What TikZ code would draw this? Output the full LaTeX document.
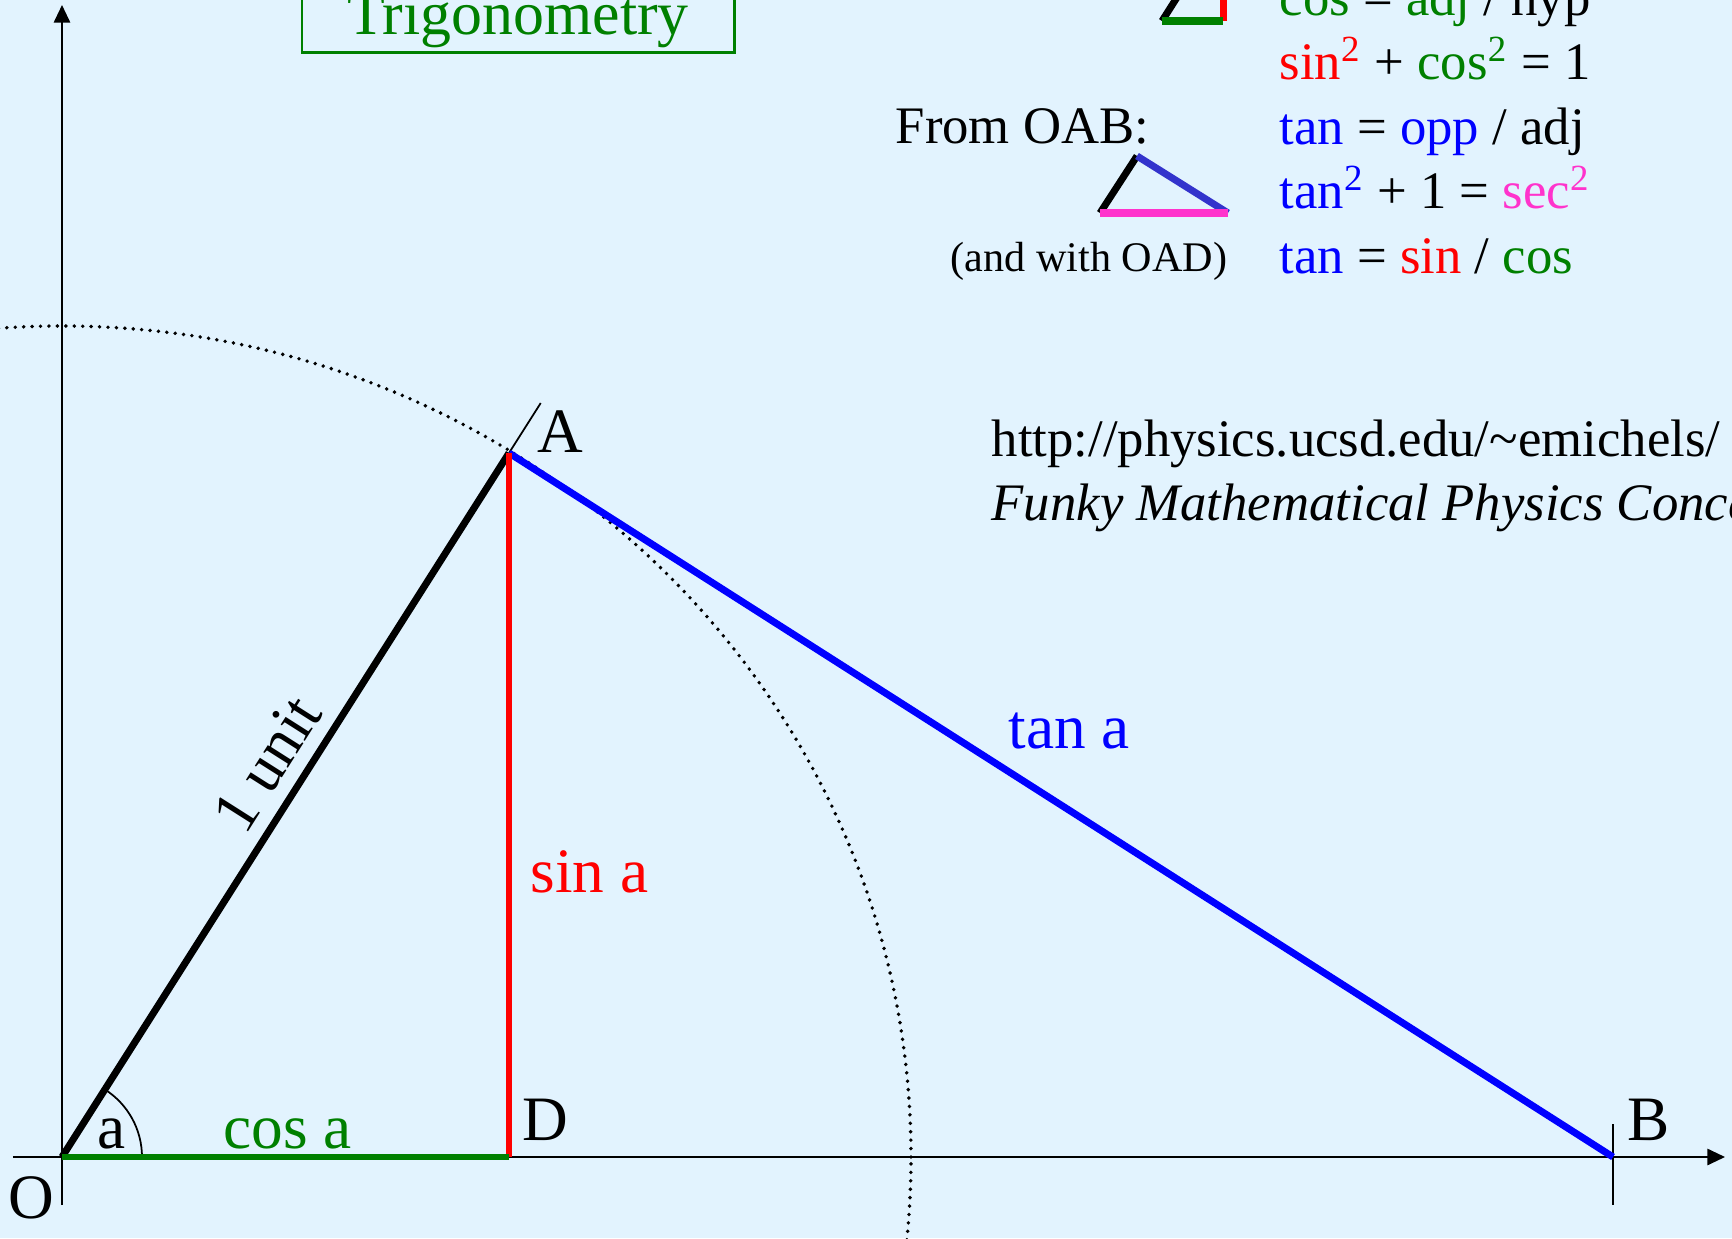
\documentclass[tikz,border=0pt]{standalone}
\usepackage{fontspec}
\setmainfont{Liberation Serif}
\usetikzlibrary{arrows.meta, positioning, calc}
\definecolor{trigSky}{RGB}{226,243,254}
\definecolor{trigGreen}{RGB}{0,128,0}
\definecolor{trigRed}{RGB}{255,0,0}
\definecolor{trigBlue}{RGB}{0,0,255}
\definecolor{trigNavy}{RGB}{51,51,204}
\definecolor{trigPink}{RGB}{255,51,204}
\newcommand{\lblfont}{\fontsize{18}{21}\selectfont}
\newcommand{\eqfont}{\fontsize{15}{18}\selectfont}
\newcommand{\notefont}{\fontsize{12}{14}\selectfont}
\tikzset{
  axisline/.style={line width=0.6pt, -{Triangle[length=5pt,width=4.6pt]}},
  tickline/.style={line width=0.5pt},
  side/.style={line width=2pt},
  thinside/.style={line width=1.6pt},
  circdots/.style={line width=1.1pt, line cap=round, dash pattern=on 0pt off 2.4pt},
  ptname/.style={font=\lblfont, anchor=base west, inner sep=0pt},
  eqline/.style={font=\eqfont, anchor=base west, inner sep=0pt},
}

\begin{document}
\begin{tikzpicture}
\path[use as bounding box, fill=trigSky] (-0.62,-0.81) rectangle (16.70,11.57);
\clip (-0.62,-0.81) rectangle (16.70,11.57);

% points of the triangle
\coordinate (O) at (0,0);
\coordinate (A) at (4.47,7.04);
\coordinate (D) at (4.47,0);
\coordinate (B) at (15.51,0);
\coordinate (Atick) at ($(O)!1.071!(A)$);
\coordinate (xstart) at (-0.49,0);
\coordinate (xend) at (16.63,0);
\coordinate (ystart) at (0,-0.48);
\coordinate (yend) at (0,11.52);
\coordinate (Btop) at (15.51,0.33);
\coordinate (Bbot) at (15.51,-0.48);

% axes and unit circle
\draw[axisline] (xstart) -- (xend);
\draw[axisline] (ystart) -- (yend);
\draw[circdots] (O) ellipse [x radius=8.49, y radius=8.31];
\draw[tickline] (A) -- (Atick);
\draw[tickline] (Btop) -- (Bbot);
\draw[tickline] ($(O)+(0.8,0)$) arc[start angle=0, end angle=57.6, radius=0.8];

% sides
\draw[side] (O) -- (A);
\draw[side, trigBlue] (A) -- (B);
\draw[thinside, trigRed] (D) -- (A);
\draw[thinside, trigGreen] (O) -- (D);

\path (O) -- (A) node[pos=0.53, sloped, above, inner sep=4.5pt, font=\lblfont] (unit) {1 unit};

% point labels
\node[font=\lblfont, anchor=base, inner sep=0pt] (Olbl) at (-0.31,-0.61) {O};
\node[ptname] (Albl) at (4.75,7.04) {A};
\node[ptname] (Dlbl) at (4.60,0.17) {D};
\node[ptname] (Blbl) at (15.65,0.17) {B};
\node[font=\lblfont, anchor=base, inner sep=0pt] (alpha) at (0.50,0.09) {a};
\node[font=\lblfont, anchor=base, inner sep=0pt, text=trigGreen] (coslbl) at (2.26,0.09) {cos a};
\node[ptname, text=trigRed] (sinlbl) at (4.68,2.65) {sin a};
\node[ptname, text=trigBlue] (tanlbl) at (9.46,4.09) {tan a};

% title
\node[draw=trigGreen, line width=0.85pt, text=trigGreen, font=\fontsize{17.6}{20}\selectfont,
      anchor=base, minimum width=4.32cm, text height=0.6cm, text depth=0.14cm,
      inner ysep=1pt] (title) at (4.56,11.22) {Trigonometry};

% source
\node[eqline] (url) at (9.29,7.00) {http://physics.ucsd.edu/\textasciitilde emichels/};
\node[eqline, font=\eqfont\itshape] (book) at (9.29,6.36) {Funky Mathematical Physics Concepts};

% identities
\node[eqline] (eqcos) at (12.17,11.41)
  {\textcolor{trigGreen}{cos} = \textcolor{trigGreen}{adj} / hyp};
\node[eqline] (eqpyth) at (12.17,10.77)
  {\textcolor{trigRed}{sin\textsuperscript{2}} + \textcolor{trigGreen}{cos\textsuperscript{2}} = 1};
\node[eqline] (eqtan) at (12.17,10.12)
  {\textcolor{trigBlue}{tan} = \textcolor{trigBlue}{opp} / adj};
\node[eqline] (eqsec) at (12.17,9.48)
  {\textcolor{trigBlue}{tan\textsuperscript{2}} + 1 = \textcolor{trigPink}{sec\textsuperscript{2}}};
\node[eqline] (eqratio) at (12.17,8.83)
  {\textcolor{trigBlue}{tan} = \textcolor{trigRed}{sin} / \textcolor{trigGreen}{cos}};

\node[eqline] (fromoab) at (8.33,10.13) {From OAB:};
\node[eqline, font=\notefont] (withoad) at (8.88,8.85) {(and with OAD)};

% small copies of the triangles
\coordinate (sO) at (11.00,11.36);
\coordinate (sD) at (11.61,11.36);
\coordinate (sA) at (11.61,12.32);
\draw[side] (sO) -- (sA);
\draw[side, trigRed] (sD) -- (sA);
\draw[side, trigGreen] (sO) -- (sD);

\coordinate (tO) at (10.38,9.44);
\coordinate (tA) at (10.75,10.01);
\coordinate (tB) at (11.66,9.44);
\draw[side] (tO) -- (tA);
\draw[side, trigNavy] (tA) -- (tB);
\draw[side, trigPink] (tO) -- (tB);
\end{tikzpicture}
\end{document}
